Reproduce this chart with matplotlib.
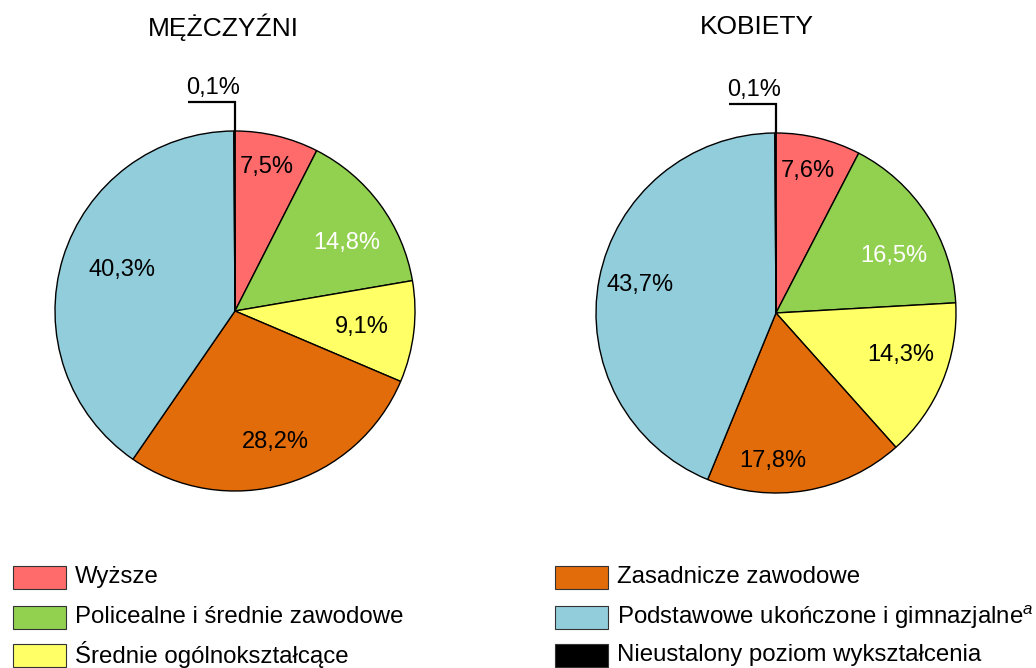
import matplotlib
matplotlib.use("Agg")
import matplotlib.pyplot as plt
from matplotlib.patches import Rectangle
import numpy as np

plt.rcParams['font.family'] = ['Liberation Sans', 'DejaVu Sans']
plt.rcParams['mathtext.fontset'] = 'custom'
plt.rcParams['mathtext.rm'] = 'Liberation Sans'
plt.rcParams['mathtext.it'] = 'Liberation Sans:italic'

categories = ["Wyższe", "Policealne i średnie zawodowe", "Średnie ogólnokształcące",
              "Zasadnicze zawodowe", "Podstawowe ukończone i gimnazjalne$^{a}$",
              "Nieustalony poziom wykształcenia"]
colors = ["#FF6B6B", "#92D050", "#FFFF66", "#E36C0A", "#92CDDC", "#000000"]
titles = ["MĘŻCZYŹNI", "KOBIETY"]
men = [7.5, 14.8, 9.1, 28.2, 40.3, 0.1]
women = [7.6, 16.5, 14.3, 17.8, 43.7, 0.1]
men_labels = ["7,5%", "14,8%", "9,1%", "28,2%", "40,3%", "0,1%"]
women_labels = ["7,6%", "16,5%", "14,3%", "17,8%", "43,7%", "0,1%"]
label_colors = ["black", "white", "black", "black", "black", "black"]

# label placement (radial fraction, angular offset in degrees) per slice
men_lpos = [(0.82, 1), (0.73, -5), (0.71, -0.5), (0.76, 1), (0.67, -2.7)]
women_lpos = [(0.81, 1), (0.73, -7), (0.73, 4), (0.82, -11), (0.77, -0.6)]

W, H = 1036, 668
fig = plt.figure(figsize=(W / 100, H / 100), dpi=100)
ax = fig.add_axes([0, 0, 1, 1])

R = 180
centers = [(235, H - 311), (776, H - 313)]
title_x = [223, 757]
FS = 17

def draw(vals, labels, lpos, center, tx, title):
    wedges, _ = ax.pie(vals, colors=colors, startangle=90, counterclock=False,
                       center=center, radius=R, frame=True,
                       wedgeprops=dict(edgecolor="black", linewidth=1.0))
    for w, lab, lc, (f, off) in zip(wedges[:-1], labels[:-1], label_colors, lpos):
        mid = np.deg2rad((w.theta1 + w.theta2) / 2 + off)
        ax.text(center[0] + f * R * np.cos(mid), center[1] + f * R * np.sin(mid), lab,
                ha="center", va="center", fontsize=FS, color=lc)
    # leader for the tiny slice
    cx, cy = center
    top = cy + R
    ax.plot([cx, cx, cx - 47], [top, top + 29, top + 29], color="black", lw=1.6,
            solid_capstyle="butt", solid_joinstyle="miter")
    ax.text(cx - 22, top + 43, labels[-1], ha="center", va="center", fontsize=FS)
    ax.text(tx, H - 27, title, ha="center", va="center", fontsize=19)

draw(men, men_labels, men_lpos, centers[0], title_x[0], titles[0])
draw(women, women_labels, women_lpos, centers[1], title_x[1], titles[1])

# legend
col_x = [13, 555]
row_y = [577, 617, 655]
for i, (cat, c) in enumerate(zip(categories, colors)):
    col, row = divmod(i, 3)
    x0 = col_x[col]
    yc = H - row_y[row]
    ax.add_patch(Rectangle((x0, yc - 11.5), 53, 23, facecolor=c, edgecolor="#333333", lw=0.8))
    ax.text(x0 + 62, yc, cat, ha="left", va="center", fontsize=17.3)

ax.set_xlim(0, W)
ax.set_ylim(0, H)
ax.set_aspect("equal")
ax.axis("off")
fig.savefig("out.png", dpi=100)
